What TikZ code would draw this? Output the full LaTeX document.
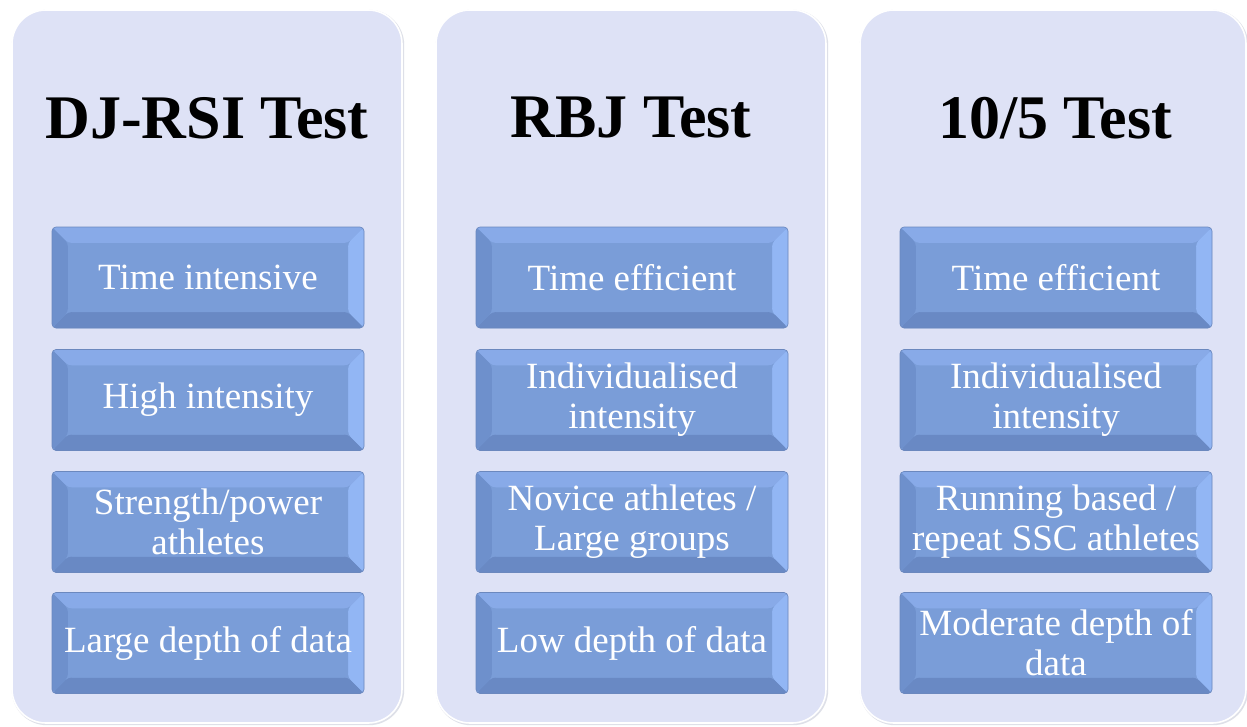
\documentclass[tikz,border=0pt]{standalone}
\usepackage{fontspec}
\setmainfont{Liberation Serif}
\usetikzlibrary{calc}

\definecolor{panelfill}{HTML}{DEE2F6}
\definecolor{panelshade}{HTML}{C9CCDA}
\definecolor{tilemid}{HTML}{7A9DD8}
\definecolor{tiletop}{HTML}{88AAE8}
\definecolor{tileleft}{HTML}{6E90CC}
\definecolor{tileright}{HTML}{92B6F4}
\definecolor{tilebottom}{HTML}{6989C4}
\definecolor{tileedge}{HTML}{6B88BE}

\tikzset{
  panel/.style={fill=panelfill, draw=white, line width=1.6pt, rounded corners=34pt},
  panelshadow/.style={draw=panelshade, line width=2.4pt, rounded corners=34pt, opacity=0.6},
  heading/.style={font=\fontsize{62}{70}\selectfont\bfseries, text=black, inner sep=0pt},
  tile/.style={
    minimum width=312pt, minimum height=101pt, inner sep=0pt,
    rounded corners=4pt, fill=tilemid, draw=tileedge, line width=0.6pt,
    text=white, align=center, font=\fontsize{37}{40}\selectfont,
    path picture={
      \coordinate (nw) at (path picture bounding box.north west);
      \coordinate (ne) at (path picture bounding box.north east);
      \coordinate (sw) at (path picture bounding box.south west);
      \coordinate (se) at (path picture bounding box.south east);
      \fill[tiletop]    (nw) -- (ne) -- ($(ne)+(-16pt,-16pt)$) -- ($(nw)+(16pt,-16pt)$) -- cycle;
      \fill[tileright]  (ne) -- (se) -- ($(se)+(-16pt,16pt)$) -- ($(ne)+(-16pt,-16pt)$) -- cycle;
      \fill[tilebottom] (sw) -- (se) -- ($(se)+(-16pt,16pt)$) -- ($(sw)+(16pt,16pt)$) -- cycle;
      \fill[tileleft]   (nw) -- (sw) -- ($(sw)+(16pt,16pt)$) -- ($(nw)+(16pt,-16pt)$) -- cycle;
      \fill[tilemid]    ($(nw)+(16pt,-16pt)$) rectangle ($(se)+(-16pt,16pt)$);
    }
  },
}

\begin{document}
\begin{tikzpicture}[x=1pt, y=-1pt]
  \useasboundingbox[fill=white] (0,0) rectangle (1247,726);

  % three column panels
  \foreach \l/\r in {12/402, 436/826, 860/1246} {
    \draw[panelshadow] (\l+1,11) rectangle (\r+1,724);
    \draw[panel] (\l,10) rectangle (\r,723);
  }

  % column headings
  \node[heading] (h1) at (207,118) {DJ-RSI Test};
  \node[heading] (h2) at (631,118) {RBJ Test};
  \node[heading] (h3) at (1055,118) {10/5 Test};

  % DJ-RSI column
  \node[tile] (a1) at (208,277.5) {Time intensive};
  \node[tile] (a2) at (208,400) {High intensity};
  \node[tile] (a3) at (208,522) {Strength/power\\athletes};
  \node[tile] (a4) at (208,643) {Large depth of data};

  % RBJ column
  \node[tile] (b1) at (632,277.5) {Time efficient};
  \node[tile] (b2) at (632,400) {Individualised\\intensity};
  \node[tile] (b3) at (632,522) {Novice athletes /\\Large groups};
  \node[tile] (b4) at (632,643) {Low depth of data};

  % 10/5 column
  \node[tile] (c1) at (1056,277.5) {Time efficient};
  \node[tile] (c2) at (1056,400) {Individualised\\intensity};
  \node[tile] (c3) at (1056,522) {Running based /\\repeat SSC athletes};
  \node[tile] (c4) at (1056,643) {Moderate depth of\\data};
\end{tikzpicture}
\end{document}
